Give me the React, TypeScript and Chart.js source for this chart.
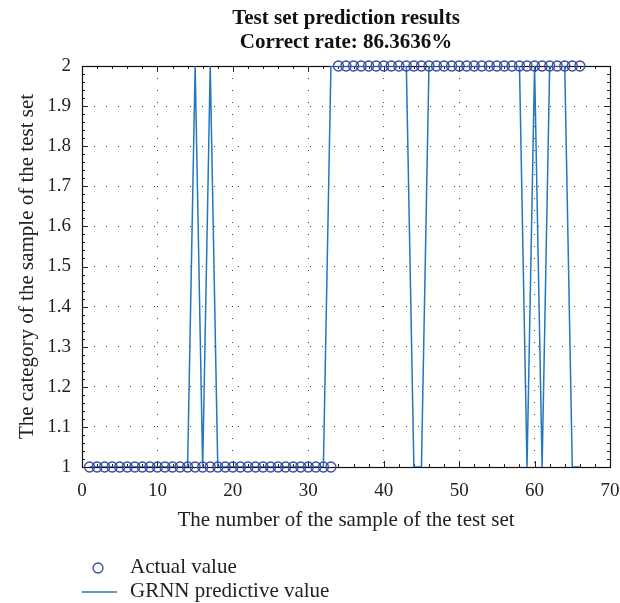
import React, { useEffect, useRef } from "react";
import { Chart, registerables } from "chart.js";

Chart.register(...registerables);

const sampleNumbers: number[] = Array.from({ length: 66 }, (_, i) => i + 1);

const actualValues: number[] = [
  1, 1, 1, 1, 1, 1, 1, 1, 1, 1,
  1, 1, 1, 1, 1, 1, 1, 1, 1, 1,
  1, 1, 1, 1, 1, 1, 1, 1, 1, 1,
  1, 1, 1, 2, 2, 2, 2, 2, 2, 2,
  2, 2, 2, 2, 2, 2, 2, 2, 2, 2,
  2, 2, 2, 2, 2, 2, 2, 2, 2, 2,
  2, 2, 2, 2, 2, 2,
];

const predictedValues: number[] = [
  1, 1, 1, 1, 1, 1, 1, 1, 1, 1,
  1, 1, 1, 1, 2, 1, 2, 1, 1, 1,
  1, 1, 1, 1, 1, 1, 1, 1, 1, 1,
  1, 1, 2, 2, 2, 2, 2, 2, 2, 2,
  2, 2, 2, 1, 1, 2, 2, 2, 2, 2,
  2, 2, 2, 2, 2, 2, 2, 2, 1, 2,
  1, 2, 2, 2, 1, 1,
];

const titleLines: string[] = ["Test set prediction results", "Correct rate: 86.3636%"];
const xAxisTitle = "The number of the sample of the test set";
const yAxisTitle = "The category of the sample of the test set";
const seriesLabels: string[] = ["Actual value", "GRNN predictive value"];

const SERIF = "'Liberation Serif', 'DejaVu Serif', serif";
const CIRCLE_COLOR = "#3a4ba0";
const LINE_COLOR = "#2277bf";

const frameAndTicks = {
  id: "frameAndTicks",
  beforeDatasetsDraw(chart: any) {
    const { ctx, chartArea } = chart;
    const { left, right, top, bottom } = chartArea;
    const xs = chart.scales.x;
    const ys = chart.scales.y;
    ctx.save();
    ctx.strokeStyle = "#222";
    ctx.lineWidth = 1;
    for (let v = 0; v <= 70; v += 2) {
      const px = Math.round(xs.getPixelForValue(v)) + 0.5;
      const len = v % 10 === 0 ? 6 : 3;
      ctx.beginPath();
      ctx.moveTo(px, bottom);
      ctx.lineTo(px, bottom - len);
      ctx.moveTo(px, top);
      ctx.lineTo(px, top + len);
      ctx.stroke();
    }
    for (let i = 0; i <= 50; i++) {
      const v = 1 + i * 0.02;
      const py = Math.round(ys.getPixelForValue(v)) + 0.5;
      const len = i % 5 === 0 ? 6 : 3;
      ctx.beginPath();
      ctx.moveTo(left, py);
      ctx.lineTo(left + len, py);
      ctx.moveTo(right, py);
      ctx.lineTo(right - len, py);
      ctx.stroke();
    }
    ctx.lineWidth = 1.2;
    ctx.strokeStyle = "#111";
    ctx.strokeRect(Math.round(left) + 0.5, Math.round(top) + 0.5, Math.round(right - left), Math.round(bottom - top));
    ctx.restore();
  },
};

const customLegend = {
  id: "customLegend",
  afterDraw(chart: any) {
    const { ctx, chartArea } = chart;
    const left = chartArea.left;
    const row1 = chart.height - 36;
    const row2 = chart.height - 12;
    ctx.save();
    ctx.strokeStyle = CIRCLE_COLOR;
    ctx.lineWidth = 1.3;
    ctx.beginPath();
    ctx.arc(left + 16, row1 + 1, 5, 0, Math.PI * 2);
    ctx.stroke();
    ctx.strokeStyle = LINE_COLOR;
    ctx.lineWidth = 1.5;
    ctx.beginPath();
    ctx.moveTo(left, row2 + 1);
    ctx.lineTo(left + 35, row2 + 1);
    ctx.stroke();
    ctx.fillStyle = "#222";
    ctx.font = `21px ${SERIF}`;
    ctx.textBaseline = "middle";
    ctx.textAlign = "left";
    const labels = chart.data.datasets.map((d: any) => d.label);
    ctx.fillText(labels[0], left + 48, row1);
    ctx.fillText(labels[1], left + 48, row2);
    ctx.restore();
  },
};

export default function App() {
  const canvasRef = useRef<HTMLCanvasElement | null>(null);

  useEffect(() => {
    if (!canvasRef.current) return;
    const chart = new Chart(canvasRef.current, {
      type: "line",
      data: {
        datasets: [
          {
            label: seriesLabels[0],
            data: sampleNumbers.map((x, i) => ({ x, y: actualValues[i] })),
            showLine: false,
            pointStyle: "circle",
            pointRadius: 5,
            pointBorderWidth: 1.3,
            pointBorderColor: CIRCLE_COLOR,
            pointBackgroundColor: "rgba(0,0,0,0)",
            borderColor: CIRCLE_COLOR,
            clip: false as any,
          },
          {
            label: seriesLabels[1],
            data: sampleNumbers.map((x, i) => ({ x, y: predictedValues[i] })),
            borderColor: LINE_COLOR,
            borderWidth: 1.5,
            pointRadius: 0,
            tension: 0,
            fill: false,
          },
        ],
      },
      options: {
        responsive: false,
        animation: false,
        events: [],
        layout: { padding: { top: 7, right: 0, bottom: 70, left: 0 } },
        plugins: {
          legend: { display: false },
          tooltip: { enabled: false },
          title: {
            display: true,
            fullSize: false,
            text: titleLines,
            color: "#111",
            font: { family: SERIF, size: 21, weight: "bold", lineHeight: 1.143 },
            padding: { top: 0, bottom: 11 },
          },
        },
        scales: {
          x: {
            type: "linear",
            min: 0,
            max: 70,
            ticks: {
              stepSize: 10,
              color: "#222",
              font: { family: SERIF, size: 19 },
              padding: 13,
              maxRotation: 0,
            },
            grid: { color: "#444", lineWidth: 1, drawTicks: false },
            border: { display: false, dash: [1, 11] },
            title: {
              display: true,
              text: xAxisTitle,
              color: "#222",
              font: { family: SERIF, size: 21 },
              padding: { top: 0, bottom: 0 },
            },
            afterFit: (s: any) => {
              s.height = 66;
              s.paddingLeft = 0;
              s.paddingRight = 10;
            },
          },
          y: {
            type: "linear",
            min: 1,
            max: 2,
            ticks: {
              stepSize: 0.1,
              color: "#222",
              font: { family: SERIF, size: 19 },
              padding: 11,
              callback: (v: any) => String(Number(Number(v).toFixed(1))),
            },
            grid: { color: "#444", lineWidth: 1, drawTicks: false },
            border: { display: false, dash: [1, 11] },
            title: {
              display: true,
              text: yAxisTitle,
              color: "#222",
              font: { family: SERIF, size: 21 },
              padding: { top: 15, bottom: 0 },
            },
            afterFit: (s: any) => {
              s.width = 82;
              s.paddingTop = 0;
              s.paddingBottom = 0;
            },
          },
        },
      },
      plugins: [frameAndTicks, customLegend],
    });
    return () => chart.destroy();
  }, []);

  return (
    <div style={{ position: "absolute", left: 0, top: 0, width: 620, height: 603, background: "#fff" }}>
      <canvas ref={canvasRef} width={620} height={603} style={{ display: "block" }} />
    </div>
  );
}
